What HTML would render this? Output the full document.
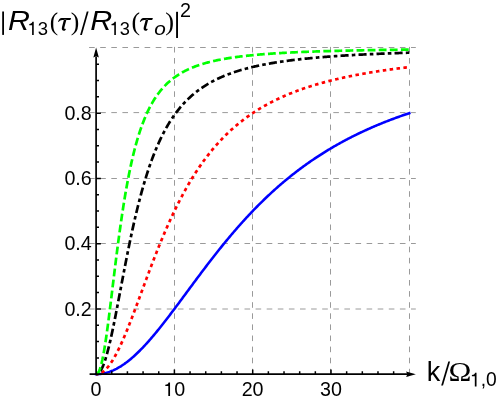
<!DOCTYPE html>
<html><head><meta charset="utf-8"><title>plot</title>
<style>
html,body{margin:0;padding:0;background:#fff;}
body{width:498px;height:400px;overflow:hidden;font-family:"Liberation Sans",sans-serif;}
svg{display:block;will-change:transform;opacity:0.999;}
.s{font-family:"Liberation Sans",sans-serif;}
.r{font-family:"Liberation Serif",serif;}
</style></head><body>
<svg width="498" height="400" viewBox="0 0 498 400">
<rect width="498" height="400" fill="#fff"/>
<g stroke="#9a9a9a" stroke-width="1" fill="none" stroke-dasharray="5.6 5.5">
<line x1="89.1" y1="309.00" x2="415.8" y2="309.00"/>
<line x1="89.1" y1="243.50" x2="415.8" y2="243.50"/>
<line x1="89.1" y1="178.50" x2="415.8" y2="178.50"/>
<line x1="89.1" y1="112.60" x2="415.8" y2="112.60"/>
<line x1="89.1" y1="47.50" x2="415.8" y2="47.50"/>
<line x1="174.50" y1="46.9" x2="174.50" y2="374.2"/>
<line x1="252.50" y1="46.9" x2="252.50" y2="374.2"/>
<line x1="330.50" y1="46.9" x2="330.50" y2="374.2"/>
<line x1="409.50" y1="46.9" x2="409.50" y2="374.2"/>
</g>
<g fill="none" stroke-width="2.7" stroke-linecap="butt" stroke-linejoin="round">
<path d="M96.10,374.20 L96.88,374.19 L97.67,374.17 L98.45,374.13 L99.23,374.07 L100.02,374.00 L100.80,373.91 L101.58,373.80 L102.36,373.68 L103.15,373.54 L103.93,373.39 L104.71,373.22 L105.50,373.03 L106.28,372.83 L107.06,372.61 L107.84,372.37 L108.63,372.12 L109.41,371.86 L110.19,371.58 L110.98,371.28 L111.76,370.97 L112.54,370.64 L113.33,370.30 L114.11,369.94 L114.89,369.57 L115.67,369.18 L116.46,368.78 L117.24,368.36 L118.02,367.93 L118.81,367.48 L119.59,367.02 L120.37,366.54 L121.16,366.06 L121.94,365.55 L122.72,365.03 L123.50,364.50 L124.29,363.96 L125.07,363.40 L125.85,362.83 L126.64,362.25 L127.42,361.65 L128.20,361.04 L128.99,360.42 L129.77,359.78 L130.55,359.14 L131.33,358.48 L132.12,357.81 L132.90,357.12 L133.68,356.43 L134.47,355.72 L135.25,355.01 L136.03,354.28 L136.82,353.54 L137.60,352.79 L138.38,352.03 L139.16,351.26 L139.95,350.48 L140.73,349.69 L141.51,348.89 L142.30,348.08 L143.08,347.26 L143.86,346.43 L144.65,345.59 L145.43,344.75 L146.21,343.89 L147.00,343.03 L147.78,342.16 L148.56,341.28 L149.34,340.39 L150.13,339.49 L150.91,338.59 L151.69,337.68 L152.48,336.76 L153.26,335.84 L154.04,334.91 L154.82,333.97 L155.61,333.03 L156.39,332.08 L157.17,331.12 L157.96,330.16 L158.74,329.19 L159.52,328.22 L160.31,327.24 L161.09,326.26 L161.87,325.27 L162.66,324.28 L163.44,323.28 L164.22,322.28 L165.00,321.27 L165.79,320.26 L166.57,319.25 L167.35,318.23 L168.14,317.21 L168.92,316.19 L169.70,315.16 L170.49,314.13 L171.27,313.10 L172.05,312.06 L172.83,311.02 L173.62,309.98 L174.40,308.94 L175.18,307.89 L175.97,306.85 L176.75,305.80 L177.53,304.75 L178.31,303.70 L179.10,302.64 L179.88,301.59 L180.66,300.53 L181.45,299.48 L182.23,298.42 L183.01,297.36 L183.80,296.30 L184.58,295.24 L185.36,294.18 L186.14,293.12 L186.93,292.06 L187.71,291.00 L188.49,289.94 L189.28,288.89 L190.06,287.83 L190.84,286.77 L191.63,285.71 L192.41,284.65 L193.19,283.60 L193.97,282.54 L194.76,281.49 L195.54,280.44 L196.32,279.38 L197.11,278.33 L197.89,277.28 L198.67,276.24 L199.46,275.19 L200.24,274.15 L201.02,273.11 L201.81,272.06 L202.59,271.03 L203.37,269.99 L204.15,268.96 L204.94,267.92 L205.72,266.89 L206.50,265.87 L207.29,264.84 L208.07,263.82 L208.85,262.80 L209.63,261.78 L210.42,260.76 L211.20,259.75 L211.98,258.74 L212.77,257.74 L213.55,256.73 L214.33,255.73 L215.12,254.73 L215.90,253.74 L216.68,252.75 L217.46,251.76 L218.25,250.77 L219.03,249.79 L219.81,248.81 L220.60,247.84 L221.38,246.86 L222.16,245.89 L222.95,244.93 L223.73,243.97 L224.51,243.01 L225.29,242.05 L226.08,241.10 L226.86,240.16 L227.64,239.21 L228.43,238.27 L229.21,237.33 L229.99,236.40 L230.78,235.47 L231.56,234.55 L232.34,233.62 L233.12,232.71 L233.91,231.79 L234.69,230.88 L235.47,229.98 L236.26,229.07 L237.04,228.18 L237.82,227.28 L238.61,226.39 L239.39,225.50 L240.17,224.62 L240.95,223.74 L241.74,222.87 L242.52,222.00 L243.30,221.13 L244.09,220.27 L244.87,219.41 L245.65,218.56 L246.44,217.71 L247.22,216.86 L248.00,216.02 L248.78,215.18 L249.57,214.35 L250.35,213.52 L251.13,212.69 L251.92,211.87 L252.70,211.05 L253.48,210.24 L254.27,209.43 L255.05,208.62 L255.83,207.82 L256.62,207.02 L257.40,206.23 L258.18,205.44 L258.96,204.65 L259.75,203.87 L260.53,203.10 L261.31,202.32 L262.10,201.55 L262.88,200.79 L263.66,200.03 L264.44,199.27 L265.23,198.52 L266.01,197.77 L266.79,197.02 L267.58,196.28 L268.36,195.55 L269.14,194.81 L269.93,194.09 L270.71,193.36 L271.49,192.64 L272.27,191.92 L273.06,191.21 L273.84,190.50 L274.62,189.79 L275.41,189.09 L276.19,188.40 L276.97,187.70 L277.76,187.01 L278.54,186.33 L279.32,185.64 L280.11,184.96 L280.89,184.29 L281.67,183.62 L282.45,182.95 L283.24,182.29 L284.02,181.63 L284.80,180.97 L285.59,180.32 L286.37,179.67 L287.15,179.03 L287.94,178.39 L288.72,177.75 L289.50,177.12 L290.28,176.49 L291.07,175.86 L291.85,175.24 L292.63,174.62 L293.42,174.00 L294.20,173.39 L294.98,172.78 L295.76,172.18 L296.55,171.57 L297.33,170.98 L298.11,170.38 L298.90,169.79 L299.68,169.20 L300.46,168.62 L301.25,168.04 L302.03,167.46 L302.81,166.88 L303.60,166.31 L304.38,165.74 L305.16,165.18 L305.94,164.62 L306.73,164.06 L307.51,163.51 L308.29,162.96 L309.08,162.41 L309.86,161.86 L310.64,161.32 L311.42,160.78 L312.21,160.25 L312.99,159.71 L313.77,159.19 L314.56,158.66 L315.34,158.14 L316.12,157.62 L316.91,157.10 L317.69,156.59 L318.47,156.08 L319.25,155.57 L320.04,155.06 L320.82,154.56 L321.60,154.06 L322.39,153.57 L323.17,153.07 L323.95,152.58 L324.74,152.10 L325.52,151.61 L326.30,151.13 L327.09,150.65 L327.87,150.18 L328.65,149.70 L329.43,149.23 L330.22,148.76 L331.00,148.30 L331.78,147.84 L332.57,147.38 L333.35,146.92 L334.13,146.47 L334.91,146.02 L335.70,145.57 L336.48,145.12 L337.26,144.68 L338.05,144.24 L338.83,143.80 L339.61,143.36 L340.40,142.93 L341.18,142.50 L341.96,142.07 L342.75,141.65 L343.53,141.22 L344.31,140.80 L345.09,140.39 L345.88,139.97 L346.66,139.56 L347.44,139.15 L348.23,138.74 L349.01,138.33 L349.79,137.93 L350.57,137.53 L351.36,137.13 L352.14,136.73 L352.92,136.34 L353.71,135.95 L354.49,135.56 L355.27,135.17 L356.06,134.78 L356.84,134.40 L357.62,134.02 L358.40,133.64 L359.19,133.27 L359.97,132.89 L360.75,132.52 L361.54,132.15 L362.32,131.78 L363.10,131.42 L363.89,131.05 L364.67,130.69 L365.45,130.33 L366.24,129.98 L367.02,129.62 L367.80,129.27 L368.58,128.92 L369.37,128.57 L370.15,128.22 L370.93,127.88 L371.72,127.53 L372.50,127.19 L373.28,126.85 L374.06,126.51 L374.85,126.18 L375.63,125.85 L376.41,125.51 L377.20,125.19 L377.98,124.86 L378.76,124.53 L379.55,124.21 L380.33,123.89 L381.11,123.57 L381.89,123.25 L382.68,122.93 L383.46,122.62 L384.24,122.30 L385.03,121.99 L385.81,121.68 L386.59,121.37 L387.38,121.07 L388.16,120.76 L388.94,120.46 L389.73,120.16 L390.51,119.86 L391.29,119.56 L392.07,119.27 L392.86,118.97 L393.64,118.68 L394.42,118.39 L395.21,118.10 L395.99,117.81 L396.77,117.53 L397.55,117.24 L398.34,116.96 L399.12,116.68 L399.90,116.40 L400.69,116.12 L401.47,115.84 L402.25,115.57 L403.04,115.30 L403.82,115.02 L404.60,114.75 L405.38,114.48 L406.17,114.22 L406.95,113.95 L407.73,113.68 L408.52,113.42 L409.30,113.16" stroke="#0000ff" stroke-width="2.55" stroke-linecap="square"/>
<path d="M96.10,374.20 L96.88,374.17 L97.67,374.07 L98.45,373.91 L99.23,373.68 L100.02,373.39 L100.80,373.03 L101.58,372.61 L102.36,372.12 L103.15,371.58 L103.93,370.97 L104.71,370.30 L105.50,369.57 L106.28,368.78 L107.06,367.93 L107.84,367.02 L108.63,366.06 L109.41,365.03 L110.19,363.96 L110.98,362.83 L111.76,361.65 L112.54,360.42 L113.33,359.14 L114.11,357.81 L114.89,356.43 L115.67,355.01 L116.46,353.54 L117.24,352.03 L118.02,350.48 L118.81,348.89 L119.59,347.26 L120.37,345.59 L121.16,343.89 L121.94,342.16 L122.72,340.39 L123.50,338.59 L124.29,336.76 L125.07,334.91 L125.85,333.03 L126.64,331.12 L127.42,329.19 L128.20,327.24 L128.99,325.27 L129.77,323.28 L130.55,321.27 L131.33,319.25 L132.12,317.21 L132.90,315.16 L133.68,313.10 L134.47,311.02 L135.25,308.94 L136.03,306.85 L136.82,304.75 L137.60,302.64 L138.38,300.53 L139.16,298.42 L139.95,296.30 L140.73,294.18 L141.51,292.06 L142.30,289.94 L143.08,287.83 L143.86,285.71 L144.65,283.60 L145.43,281.49 L146.21,279.38 L147.00,277.28 L147.78,275.19 L148.56,273.11 L149.34,271.03 L150.13,268.96 L150.91,266.89 L151.69,264.84 L152.48,262.80 L153.26,260.76 L154.04,258.74 L154.82,256.73 L155.61,254.73 L156.39,252.75 L157.17,250.77 L157.96,248.81 L158.74,246.86 L159.52,244.93 L160.31,243.01 L161.09,241.10 L161.87,239.21 L162.66,237.33 L163.44,235.47 L164.22,233.62 L165.00,231.79 L165.79,229.98 L166.57,228.18 L167.35,226.39 L168.14,224.62 L168.92,222.87 L169.70,221.13 L170.49,219.41 L171.27,217.71 L172.05,216.02 L172.83,214.35 L173.62,212.69 L174.40,211.05 L175.18,209.43 L175.97,207.82 L176.75,206.23 L177.53,204.65 L178.31,203.10 L179.10,201.55 L179.88,200.03 L180.66,198.52 L181.45,197.02 L182.23,195.55 L183.01,194.09 L183.80,192.64 L184.58,191.21 L185.36,189.79 L186.14,188.40 L186.93,187.01 L187.71,185.64 L188.49,184.29 L189.28,182.95 L190.06,181.63 L190.84,180.32 L191.63,179.03 L192.41,177.75 L193.19,176.49 L193.97,175.24 L194.76,174.00 L195.54,172.78 L196.32,171.57 L197.11,170.38 L197.89,169.20 L198.67,168.04 L199.46,166.88 L200.24,165.74 L201.02,164.62 L201.81,163.51 L202.59,162.41 L203.37,161.32 L204.15,160.25 L204.94,159.19 L205.72,158.14 L206.50,157.10 L207.29,156.08 L208.07,155.06 L208.85,154.06 L209.63,153.07 L210.42,152.10 L211.20,151.13 L211.98,150.18 L212.77,149.23 L213.55,148.30 L214.33,147.38 L215.12,146.47 L215.90,145.57 L216.68,144.68 L217.46,143.80 L218.25,142.93 L219.03,142.07 L219.81,141.22 L220.60,140.39 L221.38,139.56 L222.16,138.74 L222.95,137.93 L223.73,137.13 L224.51,136.34 L225.29,135.56 L226.08,134.78 L226.86,134.02 L227.64,133.27 L228.43,132.52 L229.21,131.78 L229.99,131.05 L230.78,130.33 L231.56,129.62 L232.34,128.92 L233.12,128.22 L233.91,127.53 L234.69,126.85 L235.47,126.18 L236.26,125.51 L237.04,124.86 L237.82,124.21 L238.61,123.57 L239.39,122.93 L240.17,122.30 L240.95,121.68 L241.74,121.07 L242.52,120.46 L243.30,119.86 L244.09,119.27 L244.87,118.68 L245.65,118.10 L246.44,117.53 L247.22,116.96 L248.00,116.40 L248.78,115.84 L249.57,115.30 L250.35,114.75 L251.13,114.22 L251.92,113.68 L252.70,113.16 L253.48,112.64 L254.27,112.13 L255.05,111.62 L255.83,111.12 L256.62,110.62 L257.40,110.13 L258.18,109.64 L258.96,109.16 L259.75,108.69 L260.53,108.21 L261.31,107.75 L262.10,107.29 L262.88,106.83 L263.66,106.38 L264.44,105.93 L265.23,105.49 L266.01,105.06 L266.79,104.62 L267.58,104.20 L268.36,103.77 L269.14,103.35 L269.93,102.94 L270.71,102.53 L271.49,102.12 L272.27,101.72 L273.06,101.33 L273.84,100.93 L274.62,100.54 L275.41,100.16 L276.19,99.78 L276.97,99.40 L277.76,99.02 L278.54,98.66 L279.32,98.29 L280.11,97.93 L280.89,97.57 L281.67,97.21 L282.45,96.86 L283.24,96.51 L284.02,96.17 L284.80,95.83 L285.59,95.49 L286.37,95.16 L287.15,94.83 L287.94,94.50 L288.72,94.17 L289.50,93.85 L290.28,93.53 L291.07,93.22 L291.85,92.91 L292.63,92.60 L293.42,92.29 L294.20,91.99 L294.98,91.69 L295.76,91.39 L296.55,91.10 L297.33,90.81 L298.11,90.52 L298.90,90.23 L299.68,89.95 L300.46,89.67 L301.25,89.39 L302.03,89.12 L302.81,88.84 L303.60,88.57 L304.38,88.31 L305.16,88.04 L305.94,87.78 L306.73,87.52 L307.51,87.26 L308.29,87.01 L309.08,86.75 L309.86,86.50 L310.64,86.25 L311.42,86.01 L312.21,85.76 L312.99,85.52 L313.77,85.28 L314.56,85.05 L315.34,84.81 L316.12,84.58 L316.91,84.35 L317.69,84.12 L318.47,83.89 L319.25,83.67 L320.04,83.45 L320.82,83.23 L321.60,83.01 L322.39,82.79 L323.17,82.58 L323.95,82.36 L324.74,82.15 L325.52,81.94 L326.30,81.74 L327.09,81.53 L327.87,81.33 L328.65,81.13 L329.43,80.92 L330.22,80.73 L331.00,80.53 L331.78,80.34 L332.57,80.14 L333.35,79.95 L334.13,79.76 L334.91,79.57 L335.70,79.39 L336.48,79.20 L337.26,79.02 L338.05,78.83 L338.83,78.65 L339.61,78.48 L340.40,78.30 L341.18,78.12 L341.96,77.95 L342.75,77.77 L343.53,77.60 L344.31,77.43 L345.09,77.26 L345.88,77.10 L346.66,76.93 L347.44,76.77 L348.23,76.60 L349.01,76.44 L349.79,76.28 L350.57,76.12 L351.36,75.96 L352.14,75.81 L352.92,75.65 L353.71,75.50 L354.49,75.34 L355.27,75.19 L356.06,75.04 L356.84,74.89 L357.62,74.74 L358.40,74.60 L359.19,74.45 L359.97,74.31 L360.75,74.16 L361.54,74.02 L362.32,73.88 L363.10,73.74 L363.89,73.60 L364.67,73.46 L365.45,73.33 L366.24,73.19 L367.02,73.05 L367.80,72.92 L368.58,72.79 L369.37,72.66 L370.15,72.53 L370.93,72.40 L371.72,72.27 L372.50,72.14 L373.28,72.01 L374.06,71.89 L374.85,71.76 L375.63,71.64 L376.41,71.52 L377.20,71.39 L377.98,71.27 L378.76,71.15 L379.55,71.03 L380.33,70.92 L381.11,70.80 L381.89,70.68 L382.68,70.57 L383.46,70.45 L384.24,70.34 L385.03,70.22 L385.81,70.11 L386.59,70.00 L387.38,69.89 L388.16,69.78 L388.94,69.67 L389.73,69.56 L390.51,69.46 L391.29,69.35 L392.07,69.24 L392.86,69.14 L393.64,69.03 L394.42,68.93 L395.21,68.83 L395.99,68.72 L396.77,68.62 L397.55,68.52 L398.34,68.42 L399.12,68.32 L399.90,68.22 L400.69,68.13 L401.47,68.03 L402.25,67.93 L403.04,67.84 L403.82,67.74 L404.60,67.65 L405.38,67.55 L406.17,67.46 L406.95,67.37 L407.73,67.28 L408.52,67.18 L409.30,67.09" stroke="#ff0000" stroke-dasharray="3.5 3.43" stroke-dashoffset="1.35"/>
<path d="M96.10,374.20 L96.88,374.10 L97.67,373.80 L98.45,373.28 L99.23,372.55 L100.02,371.59 L100.80,370.41 L101.58,369.02 L102.36,367.41 L103.15,365.60 L103.93,363.58 L104.71,361.37 L105.50,358.97 L106.28,356.39 L107.06,353.64 L107.84,350.72 L108.63,347.65 L109.41,344.44 L110.19,341.10 L110.98,337.64 L111.76,334.07 L112.54,330.39 L113.33,326.63 L114.11,322.79 L114.89,318.88 L115.67,314.90 L116.46,310.88 L117.24,306.82 L118.02,302.73 L118.81,298.61 L119.59,294.48 L120.37,290.34 L121.16,286.20 L121.94,282.07 L122.72,277.95 L123.50,273.85 L124.29,269.77 L125.07,265.72 L125.85,261.71 L126.64,257.73 L127.42,253.79 L128.20,249.91 L128.99,246.06 L129.77,242.27 L130.55,238.53 L131.33,234.85 L132.12,231.23 L132.90,227.66 L133.68,224.15 L134.47,220.70 L135.25,217.31 L136.03,213.99 L136.82,210.73 L137.60,207.53 L138.38,204.39 L139.16,201.31 L139.95,198.30 L140.73,195.35 L141.51,192.46 L142.30,189.63 L143.08,186.86 L143.86,184.15 L144.65,181.50 L145.43,178.91 L146.21,176.37 L147.00,173.89 L147.78,171.47 L148.56,169.10 L149.34,166.78 L150.13,164.52 L150.91,162.31 L151.69,160.15 L152.48,158.03 L153.26,155.97 L154.04,153.96 L154.82,151.99 L155.61,150.06 L156.39,148.18 L157.17,146.34 L157.96,144.55 L158.74,142.80 L159.52,141.08 L160.31,139.41 L161.09,137.77 L161.87,136.18 L162.66,134.62 L163.44,133.09 L164.22,131.60 L165.00,130.14 L165.79,128.72 L166.57,127.33 L167.35,125.97 L168.14,124.64 L168.92,123.34 L169.70,122.07 L170.49,120.83 L171.27,119.61 L172.05,118.43 L172.83,117.27 L173.62,116.13 L174.40,115.02 L175.18,113.93 L175.97,112.87 L176.75,111.83 L177.53,110.81 L178.31,109.82 L179.10,108.85 L179.88,107.89 L180.66,106.96 L181.45,106.05 L182.23,105.15 L183.01,104.28 L183.80,103.42 L184.58,102.58 L185.36,101.76 L186.14,100.96 L186.93,100.17 L187.71,99.40 L188.49,98.64 L189.28,97.90 L190.06,97.18 L190.84,96.47 L191.63,95.77 L192.41,95.09 L193.19,94.42 L193.97,93.76 L194.76,93.12 L195.54,92.49 L196.32,91.87 L197.11,91.26 L197.89,90.67 L198.67,90.09 L199.46,89.51 L200.24,88.95 L201.02,88.40 L201.81,87.86 L202.59,87.33 L203.37,86.81 L204.15,86.30 L204.94,85.80 L205.72,85.31 L206.50,84.82 L207.29,84.35 L208.07,83.89 L208.85,83.43 L209.63,82.98 L210.42,82.54 L211.20,82.11 L211.98,81.68 L212.77,81.26 L213.55,80.85 L214.33,80.45 L215.12,80.05 L215.90,79.66 L216.68,79.28 L217.46,78.90 L218.25,78.53 L219.03,78.17 L219.81,77.81 L220.60,77.46 L221.38,77.12 L222.16,76.78 L222.95,76.44 L223.73,76.11 L224.51,75.79 L225.29,75.47 L226.08,75.16 L226.86,74.85 L227.64,74.55 L228.43,74.25 L229.21,73.96 L229.99,73.67 L230.78,73.39 L231.56,73.11 L232.34,72.83 L233.12,72.56 L233.91,72.30 L234.69,72.04 L235.47,71.78 L236.26,71.52 L237.04,71.27 L237.82,71.03 L238.61,70.78 L239.39,70.55 L240.17,70.31 L240.95,70.08 L241.74,69.85 L242.52,69.62 L243.30,69.40 L244.09,69.18 L244.87,68.97 L245.65,68.76 L246.44,68.55 L247.22,68.34 L248.00,68.14 L248.78,67.94 L249.57,67.74 L250.35,67.55 L251.13,67.36 L251.92,67.17 L252.70,66.98 L253.48,66.80 L254.27,66.61 L255.05,66.44 L255.83,66.26 L256.62,66.09 L257.40,65.91 L258.18,65.75 L258.96,65.58 L259.75,65.41 L260.53,65.25 L261.31,65.09 L262.10,64.93 L262.88,64.78 L263.66,64.62 L264.44,64.47 L265.23,64.32 L266.01,64.18 L266.79,64.03 L267.58,63.89 L268.36,63.74 L269.14,63.60 L269.93,63.46 L270.71,63.33 L271.49,63.19 L272.27,63.06 L273.06,62.93 L273.84,62.80 L274.62,62.67 L275.41,62.54 L276.19,62.42 L276.97,62.30 L277.76,62.17 L278.54,62.05 L279.32,61.93 L280.11,61.82 L280.89,61.70 L281.67,61.59 L282.45,61.47 L283.24,61.36 L284.02,61.25 L284.80,61.14 L285.59,61.03 L286.37,60.93 L287.15,60.82 L287.94,60.72 L288.72,60.61 L289.50,60.51 L290.28,60.41 L291.07,60.31 L291.85,60.21 L292.63,60.12 L293.42,60.02 L294.20,59.93 L294.98,59.83 L295.76,59.74 L296.55,59.65 L297.33,59.56 L298.11,59.47 L298.90,59.38 L299.68,59.29 L300.46,59.20 L301.25,59.12 L302.03,59.03 L302.81,58.95 L303.60,58.87 L304.38,58.79 L305.16,58.70 L305.94,58.62 L306.73,58.55 L307.51,58.47 L308.29,58.39 L309.08,58.31 L309.86,58.24 L310.64,58.16 L311.42,58.09 L312.21,58.01 L312.99,57.94 L313.77,57.87 L314.56,57.80 L315.34,57.73 L316.12,57.66 L316.91,57.59 L317.69,57.52 L318.47,57.45 L319.25,57.39 L320.04,57.32 L320.82,57.25 L321.60,57.19 L322.39,57.12 L323.17,57.06 L323.95,57.00 L324.74,56.94 L325.52,56.87 L326.30,56.81 L327.09,56.75 L327.87,56.69 L328.65,56.63 L329.43,56.58 L330.22,56.52 L331.00,56.46 L331.78,56.40 L332.57,56.35 L333.35,56.29 L334.13,56.23 L334.91,56.18 L335.70,56.13 L336.48,56.07 L337.26,56.02 L338.05,55.97 L338.83,55.91 L339.61,55.86 L340.40,55.81 L341.18,55.76 L341.96,55.71 L342.75,55.66 L343.53,55.61 L344.31,55.56 L345.09,55.51 L345.88,55.47 L346.66,55.42 L347.44,55.37 L348.23,55.32 L349.01,55.28 L349.79,55.23 L350.57,55.19 L351.36,55.14 L352.14,55.10 L352.92,55.05 L353.71,55.01 L354.49,54.97 L355.27,54.92 L356.06,54.88 L356.84,54.84 L357.62,54.80 L358.40,54.76 L359.19,54.71 L359.97,54.67 L360.75,54.63 L361.54,54.59 L362.32,54.55 L363.10,54.51 L363.89,54.48 L364.67,54.44 L365.45,54.40 L366.24,54.36 L367.02,54.32 L367.80,54.29 L368.58,54.25 L369.37,54.21 L370.15,54.18 L370.93,54.14 L371.72,54.10 L372.50,54.07 L373.28,54.03 L374.06,54.00 L374.85,53.96 L375.63,53.93 L376.41,53.90 L377.20,53.86 L377.98,53.83 L378.76,53.79 L379.55,53.76 L380.33,53.73 L381.11,53.70 L381.89,53.66 L382.68,53.63 L383.46,53.60 L384.24,53.57 L385.03,53.54 L385.81,53.51 L386.59,53.48 L387.38,53.45 L388.16,53.42 L388.94,53.39 L389.73,53.36 L390.51,53.33 L391.29,53.30 L392.07,53.27 L392.86,53.24 L393.64,53.21 L394.42,53.19 L395.21,53.16 L395.99,53.13 L396.77,53.10 L397.55,53.07 L398.34,53.05 L399.12,53.02 L399.90,52.99 L400.69,52.97 L401.47,52.94 L402.25,52.91 L403.04,52.89 L403.82,52.86 L404.60,52.84 L405.38,52.81 L406.17,52.79 L406.95,52.76 L407.73,52.74 L408.52,52.71 L409.30,52.69" stroke="#000000" stroke-dasharray="3.6 3.15 8.1 3.18" stroke-dashoffset="1.1"/>
<path d="M96.10,374.20 L96.88,374.02 L97.67,373.42 L98.45,372.35 L99.23,370.80 L100.02,368.76 L100.80,366.24 L101.58,363.25 L102.36,359.81 L103.15,355.93 L103.93,351.65 L104.71,346.99 L105.50,342.00 L106.28,336.69 L107.06,331.13 L107.84,325.33 L108.63,319.33 L109.41,313.18 L110.19,306.90 L110.98,300.54 L111.76,294.12 L112.54,287.67 L113.33,281.23 L114.11,274.80 L114.89,268.43 L115.67,262.11 L116.46,255.89 L117.24,249.76 L118.02,243.74 L118.81,237.84 L119.59,232.08 L120.37,226.45 L121.16,220.96 L121.94,215.62 L122.72,210.44 L123.50,205.40 L124.29,200.51 L125.07,195.78 L125.85,191.20 L126.64,186.77 L127.42,182.48 L128.20,178.34 L128.99,174.34 L129.77,170.48 L130.55,166.75 L131.33,163.16 L132.12,159.69 L132.90,156.35 L133.68,153.13 L134.47,150.02 L135.25,147.02 L136.03,144.13 L136.82,141.35 L137.60,138.67 L138.38,136.08 L139.16,133.59 L139.95,131.18 L140.73,128.87 L141.51,126.63 L142.30,124.47 L143.08,122.40 L143.86,120.39 L144.65,118.46 L145.43,116.59 L146.21,114.79 L147.00,113.05 L147.78,111.37 L148.56,109.74 L149.34,108.18 L150.13,106.66 L150.91,105.20 L151.69,103.79 L152.48,102.42 L153.26,101.10 L154.04,99.82 L154.82,98.58 L155.61,97.39 L156.39,96.23 L157.17,95.11 L157.96,94.02 L158.74,92.97 L159.52,91.95 L160.31,90.96 L161.09,90.01 L161.87,89.08 L162.66,88.18 L163.44,87.31 L164.22,86.46 L165.00,85.64 L165.79,84.85 L166.57,84.07 L167.35,83.32 L168.14,82.60 L168.92,81.89 L169.70,81.20 L170.49,80.53 L171.27,79.88 L172.05,79.25 L172.83,78.64 L173.62,78.04 L174.40,77.46 L175.18,76.89 L175.97,76.34 L176.75,75.81 L177.53,75.29 L178.31,74.78 L179.10,74.29 L179.88,73.81 L180.66,73.34 L181.45,72.88 L182.23,72.43 L183.01,72.00 L183.80,71.58 L184.58,71.16 L185.36,70.76 L186.14,70.37 L186.93,69.99 L187.71,69.61 L188.49,69.25 L189.28,68.89 L190.06,68.54 L190.84,68.21 L191.63,67.87 L192.41,67.55 L193.19,67.23 L193.97,66.92 L194.76,66.62 L195.54,66.33 L196.32,66.04 L197.11,65.76 L197.89,65.48 L198.67,65.21 L199.46,64.95 L200.24,64.69 L201.02,64.44 L201.81,64.19 L202.59,63.95 L203.37,63.71 L204.15,63.48 L204.94,63.25 L205.72,63.03 L206.50,62.81 L207.29,62.60 L208.07,62.39 L208.85,62.19 L209.63,61.99 L210.42,61.79 L211.20,61.60 L211.98,61.41 L212.77,61.23 L213.55,61.05 L214.33,60.87 L215.12,60.70 L215.90,60.52 L216.68,60.36 L217.46,60.19 L218.25,60.03 L219.03,59.87 L219.81,59.72 L220.60,59.57 L221.38,59.42 L222.16,59.27 L222.95,59.13 L223.73,58.99 L224.51,58.85 L225.29,58.71 L226.08,58.58 L226.86,58.45 L227.64,58.32 L228.43,58.19 L229.21,58.06 L229.99,57.94 L230.78,57.82 L231.56,57.70 L232.34,57.59 L233.12,57.47 L233.91,57.36 L234.69,57.25 L235.47,57.14 L236.26,57.04 L237.04,56.93 L237.82,56.83 L238.61,56.73 L239.39,56.63 L240.17,56.53 L240.95,56.43 L241.74,56.34 L242.52,56.24 L243.30,56.15 L244.09,56.06 L244.87,55.97 L245.65,55.89 L246.44,55.80 L247.22,55.71 L248.00,55.63 L248.78,55.55 L249.57,55.47 L250.35,55.39 L251.13,55.31 L251.92,55.23 L252.70,55.16 L253.48,55.08 L254.27,55.01 L255.05,54.93 L255.83,54.86 L256.62,54.79 L257.40,54.72 L258.18,54.65 L258.96,54.59 L259.75,54.52 L260.53,54.45 L261.31,54.39 L262.10,54.32 L262.88,54.26 L263.66,54.20 L264.44,54.14 L265.23,54.08 L266.01,54.02 L266.79,53.96 L267.58,53.90 L268.36,53.85 L269.14,53.79 L269.93,53.73 L270.71,53.68 L271.49,53.63 L272.27,53.57 L273.06,53.52 L273.84,53.47 L274.62,53.42 L275.41,53.37 L276.19,53.32 L276.97,53.27 L277.76,53.22 L278.54,53.17 L279.32,53.13 L280.11,53.08 L280.89,53.03 L281.67,52.99 L282.45,52.94 L283.24,52.90 L284.02,52.86 L284.80,52.81 L285.59,52.77 L286.37,52.73 L287.15,52.69 L287.94,52.65 L288.72,52.60 L289.50,52.56 L290.28,52.53 L291.07,52.49 L291.85,52.45 L292.63,52.41 L293.42,52.37 L294.20,52.34 L294.98,52.30 L295.76,52.26 L296.55,52.23 L297.33,52.19 L298.11,52.16 L298.90,52.12 L299.68,52.09 L300.46,52.05 L301.25,52.02 L302.03,51.99 L302.81,51.96 L303.60,51.92 L304.38,51.89 L305.16,51.86 L305.94,51.83 L306.73,51.80 L307.51,51.77 L308.29,51.74 L309.08,51.71 L309.86,51.68 L310.64,51.65 L311.42,51.62 L312.21,51.59 L312.99,51.57 L313.77,51.54 L314.56,51.51 L315.34,51.48 L316.12,51.46 L316.91,51.43 L317.69,51.40 L318.47,51.38 L319.25,51.35 L320.04,51.33 L320.82,51.30 L321.60,51.28 L322.39,51.25 L323.17,51.23 L323.95,51.20 L324.74,51.18 L325.52,51.16 L326.30,51.13 L327.09,51.11 L327.87,51.09 L328.65,51.06 L329.43,51.04 L330.22,51.02 L331.00,51.00 L331.78,50.98 L332.57,50.95 L333.35,50.93 L334.13,50.91 L334.91,50.89 L335.70,50.87 L336.48,50.85 L337.26,50.83 L338.05,50.81 L338.83,50.79 L339.61,50.77 L340.40,50.75 L341.18,50.73 L341.96,50.71 L342.75,50.69 L343.53,50.68 L344.31,50.66 L345.09,50.64 L345.88,50.62 L346.66,50.60 L347.44,50.59 L348.23,50.57 L349.01,50.55 L349.79,50.53 L350.57,50.52 L351.36,50.50 L352.14,50.48 L352.92,50.47 L353.71,50.45 L354.49,50.43 L355.27,50.42 L356.06,50.40 L356.84,50.38 L357.62,50.37 L358.40,50.35 L359.19,50.34 L359.97,50.32 L360.75,50.31 L361.54,50.29 L362.32,50.28 L363.10,50.26 L363.89,50.25 L364.67,50.23 L365.45,50.22 L366.24,50.21 L367.02,50.19 L367.80,50.18 L368.58,50.16 L369.37,50.15 L370.15,50.14 L370.93,50.12 L371.72,50.11 L372.50,50.10 L373.28,50.08 L374.06,50.07 L374.85,50.06 L375.63,50.04 L376.41,50.03 L377.20,50.02 L377.98,50.01 L378.76,49.99 L379.55,49.98 L380.33,49.97 L381.11,49.96 L381.89,49.95 L382.68,49.93 L383.46,49.92 L384.24,49.91 L385.03,49.90 L385.81,49.89 L386.59,49.88 L387.38,49.87 L388.16,49.85 L388.94,49.84 L389.73,49.83 L390.51,49.82 L391.29,49.81 L392.07,49.80 L392.86,49.79 L393.64,49.78 L394.42,49.77 L395.21,49.76 L395.99,49.75 L396.77,49.74 L397.55,49.73 L398.34,49.72 L399.12,49.71 L399.90,49.70 L400.69,49.69 L401.47,49.68 L402.25,49.67 L403.04,49.66 L403.82,49.65 L404.60,49.64 L405.38,49.63 L406.17,49.62 L406.95,49.61 L407.73,49.60 L408.52,49.59 L409.30,49.59" stroke="#00ff00" stroke-dasharray="7.8 3.283" stroke-dashoffset="-0.8"/>
</g>
<g stroke="#000" stroke-width="1.7" fill="none">
<line x1="89.6" y1="374.2" x2="408" y2="374.2"/>
<line x1="96.1" y1="374.9" x2="96.1" y2="56.5"/>
<path d="M111.76,374.2v-2.9 M127.42,374.2v-2.9 M143.08,374.2v-2.9 M158.74,374.2v-2.9 M174.40,374.2v-4.8 M190.06,374.2v-2.9 M205.72,374.2v-2.9 M221.38,374.2v-2.9 M237.04,374.2v-2.9 M252.70,374.2v-4.8 M268.36,374.2v-2.9 M284.02,374.2v-2.9 M299.68,374.2v-2.9 M315.34,374.2v-2.9 M331.00,374.2v-4.8 M346.66,374.2v-2.9 M362.32,374.2v-2.9 M377.98,374.2v-2.9 M393.64,374.2v-2.9 M96.1,357.88h2.9 M96.1,341.57h2.9 M96.1,325.25h2.9 M96.1,308.94h4.8 M96.1,292.62h2.9 M96.1,276.31h2.9 M96.1,260.00h2.9 M96.1,243.68h4.8 M96.1,227.36h2.9 M96.1,211.05h2.9 M96.1,194.73h2.9 M96.1,178.42h4.8 M96.1,162.10h2.9 M96.1,145.79h2.9 M96.1,129.47h2.9 M96.1,113.16h4.8 M96.1,96.84h2.9 M96.1,80.53h2.9 M96.1,64.21h2.9" stroke-width="1.5"/>
</g>
<path d="M415.9,374.2 L406.0,371.4 L407.4,374.2 L406.0,377.0 Z" fill="#000"/>
<path d="M96.1,47.4 L93.35,57.5 L96.1,56.2 L98.85,57.5 Z" fill="#000"/>
<g fill="#000">
<text class="s" transform="translate(90.522 396.000) scale(0.1970 0.1970)" font-size="100">0</text>
<path d="M515 0V1040H205V1170C390 1175 500 1270 545 1409H696V0Z" transform="translate(163.344 396.000) scale(0.00962 -0.00962)"/>
<text class="s" transform="translate(174.300 396.000) scale(0.1970 0.1970)" font-size="100">0</text>
<text class="s" transform="translate(241.644 396.000) scale(0.1970 0.1970)" font-size="100">2</text>
<text class="s" transform="translate(252.600 396.000) scale(0.1970 0.1970)" font-size="100">0</text>
<text class="s" transform="translate(319.944 396.000) scale(0.1970 0.1970)" font-size="100">3</text>
<text class="s" transform="translate(330.900 396.000) scale(0.1970 0.1970)" font-size="100">0</text>
<text class="s" transform="translate(64.414 315.740) scale(0.1970 0.1970)" font-size="100">0</text>
<text class="s" transform="translate(75.371 315.740) scale(0.1970 0.1970)" font-size="100">.</text>
<text class="s" transform="translate(80.844 315.740) scale(0.1970 0.1970)" font-size="100">2</text>
<text class="s" transform="translate(64.414 250.480) scale(0.1970 0.1970)" font-size="100">0</text>
<text class="s" transform="translate(75.371 250.480) scale(0.1970 0.1970)" font-size="100">.</text>
<text class="s" transform="translate(80.844 250.480) scale(0.1970 0.1970)" font-size="100">4</text>
<text class="s" transform="translate(64.414 185.220) scale(0.1970 0.1970)" font-size="100">0</text>
<text class="s" transform="translate(75.371 185.220) scale(0.1970 0.1970)" font-size="100">.</text>
<text class="s" transform="translate(80.844 185.220) scale(0.1970 0.1970)" font-size="100">6</text>
<text class="s" transform="translate(64.414 119.960) scale(0.1970 0.1970)" font-size="100">0</text>
<text class="s" transform="translate(75.371 119.960) scale(0.1970 0.1970)" font-size="100">.</text>
<text class="s" transform="translate(80.844 119.960) scale(0.1970 0.1970)" font-size="100">8</text>
</g>
<g fill="#000">
<text class="s" transform="translate(426.684 381.000) scale(0.2695 0.2733)" font-size="100">k</text>
<path d="M441.2,385.6 L443.0,385.6 L450.1,361.4 L448.3,361.4 Z"/>
<text class="r" transform="translate(448.406 381.000) scale(0.3080 0.2794)" font-size="100">Ω</text>
<path d="M515 0V1040H205V1170C390 1175 500 1270 545 1409H696V0Z" transform="translate(469.972 386.418) scale(0.00941 -0.00966)"/>
<text class="s" transform="translate(480.686 386.418) scale(0.1926 0.1979)" font-size="100">,</text>
<text class="s" transform="translate(486.038 386.418) scale(0.1926 0.1979)" font-size="100">0</text>
<rect x="2.2" y="11.5" width="1.8" height="23.4"/>
<text class="s" transform="translate(8.064 29.900) scale(0.3042 0.2747)" font-size="100" font-style="italic">R</text>
<path d="M515 0V1040H205V1170C390 1175 500 1270 545 1409H696V0Z" transform="translate(27.450 34.914) scale(0.00903 -0.00931)"/>
<text class="s" transform="translate(37.731 34.914) scale(0.1849 0.1907)" font-size="100">3</text>
<text class="r" transform="translate(49.688 29.629) scale(0.2531 0.2570)" font-size="100">(</text>
<path d="M58.0,21.8 C58.8,19.5 60.0,18.05 61.6,18.0 L71.1,18.0 L70.4,19.9 L62.3,19.9 C60.8,19.9 59.7,20.7 58.5,22.0 Z M63.9,19.8 L62.0,27.0 C61.4,29.3 62.2,30.85 63.9,30.85 C65.0,30.85 65.7,30.0 65.9,28.95 L65.35,28.65 C64.95,29.15 64.5,29.15 64.35,28.6 C64.2,28.0 64.4,27.3 64.6,26.5 L66.4,19.8 Z"/>
<text class="r" transform="translate(70.672 29.629) scale(0.2570 0.2570)" font-size="100">)</text>
<path d="M80.1,35.1 L81.9,35.1 L88.6,11.5 L86.8,11.5 Z"/>
<text class="s" transform="translate(90.264 29.900) scale(0.3042 0.2747)" font-size="100" font-style="italic">R</text>
<path d="M515 0V1040H205V1170C390 1175 500 1270 545 1409H696V0Z" transform="translate(109.670 34.914) scale(0.00893 -0.00931)"/>
<text class="s" transform="translate(119.837 34.914) scale(0.1828 0.1907)" font-size="100">3</text>
<text class="r" transform="translate(131.571 29.629) scale(0.2570 0.2570)" font-size="100">(</text>
<path d="M58.0,21.8 C58.8,19.5 60.0,18.05 61.6,18.0 L71.1,18.0 L70.4,19.9 L62.3,19.9 C60.8,19.9 59.7,20.7 58.5,22.0 Z M63.9,19.8 L62.0,27.0 C61.4,29.3 62.2,30.85 63.9,30.85 C65.0,30.85 65.7,30.0 65.9,28.95 L65.35,28.65 C64.95,29.15 64.5,29.15 64.35,28.6 C64.2,28.0 64.4,27.3 64.6,26.5 L66.4,19.8 Z" transform="translate(81.8 0)"/>
<text class="s" transform="translate(154.221 34.922) scale(0.2074 0.1827)" font-size="100" font-style="italic">o</text>
<text class="r" transform="translate(165.147 29.629) scale(0.2648 0.2570)" font-size="100">)</text>
<rect x="176.1" y="11.8" width="1.9" height="26.2"/>
<text class="s" transform="translate(180.106 17.300) scale(0.1976 0.1933)" font-size="100">2</text>
</g>
</svg>
</body></html>
